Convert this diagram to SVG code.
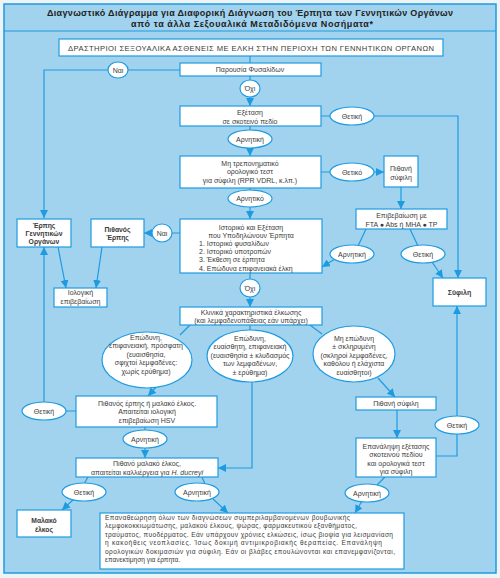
<svg xmlns="http://www.w3.org/2000/svg" width="500" height="578" viewBox="0 0 500 578">
<defs>
<style>
.bg{fill:#a1d3ef;stroke:#1e9be0;stroke-width:1.5}
.box{fill:#ffffff;stroke:#1e9be0;stroke-width:1.2}
.ell{fill:#ffffff;stroke:#1e9be0;stroke-width:1.2}
.c{stroke:#1e9be0;stroke-width:1.2;fill:none}
.t{font-family:"Liberation Sans",Arial,sans-serif;font-size:7px;fill:#3a3a3a;text-anchor:middle}
.l{text-anchor:start}
.b{font-weight:bold}
.s{font-size:6.6px}
.ttl{font-family:"Liberation Sans",Arial,sans-serif;font-size:9px;font-weight:bold;fill:#222;text-anchor:middle}
</style>
<marker id="ah" viewBox="0 0 10 10" refX="10" refY="5" markerWidth="8" markerHeight="8" markerUnits="userSpaceOnUse" orient="auto">
<path d="M0,0 L10,5 L0,10 z" fill="#1e9be0"/>
</marker>
</defs>
<rect x="0" y="0" width="500" height="578" fill="#eef3f6"/>
<rect class="bg" x="4" y="4" width="492" height="569"/>
<line x1="4" y1="31" x2="496" y2="31" stroke="#1e9be0" stroke-width="1.2"/>
<text class="ttl" x="250" y="16" textLength="406">Διαγνωστικό Διάγραμμα για Διαφορική Διάγνωση του Έρπητα των Γεννητικών Οργάνων</text>
<text class="ttl" x="252" y="27" textLength="242">από τα άλλα Σεξουαλικά Μεταδιδόμενα Νοσήματα*</text>

<g id="connectors">
<path class="c" d="M250,56 V63"/>
<path class="c" d="M180,70 H128 M108,70 H44 V218" marker-end="url(#ah)"/>
<path class="c" d="M250,76 V80 M250,97 V106" marker-end="url(#ah)"/>
<path class="c" d="M250,126 V130 M250,148 V156" marker-end="url(#ah)"/>
<path class="c" d="M321,116 H330 M374,116 H458 V278" marker-end="url(#ah)"/>
<path class="c" d="M321,172 H330 M374,172 H384" marker-end="url(#ah)"/>
<path class="c" d="M401,187 V209" marker-end="url(#ah)"/>
<path class="c" d="M250,188 V190 M250,207 V219" marker-end="url(#ah)"/>
<path class="c" d="M180,233 H172 M152,233 H144" marker-end="url(#ah)"/>
<path class="c" d="M366,229 L358,246 M335,259 L322,267" marker-end="url(#ah)"/>
<path class="c" d="M410,229 L418,246 M432,262 L443,278" marker-end="url(#ah)"/>
<path class="c" d="M58,247 L66,288" marker-end="url(#ah)"/>
<path class="c" d="M102,247 L96,288" marker-end="url(#ah)"/>
<path class="c" d="M250,273 V279 M250,297 V307" marker-end="url(#ah)"/>
<path class="c" d="M190,325 L180,335"/>
<path class="c" d="M250,325 V330"/>
<path class="c" d="M310,325 L322,334"/>
<path class="c" d="M158,385 L148,396" marker-end="url(#ah)"/>
<path class="c" d="M252,382 V468 H218" marker-end="url(#ah)"/>
<path class="c" d="M378,378 L395,397" marker-end="url(#ah)"/>
<path class="c" d="M397,410 V438" marker-end="url(#ah)"/>
<path class="c" d="M436,456 H457 V434 M457,416 V306" marker-end="url(#ah)"/>
<path class="c" d="M76,411 H66 M44,402 V247" marker-end="url(#ah)"/>
<path class="c" d="M145,427 V430 M145,448 V458" marker-end="url(#ah)"/>
<path class="c" d="M88,477 L84,484 M74,499 L62,510" marker-end="url(#ah)"/>
<path class="c" d="M202,477 L205,484 M213,499 L228,513" marker-end="url(#ah)"/>
<path class="c" d="M385,477 L377,485 M362,501 L355,513" marker-end="url(#ah)"/>
</g>

<g id="n-top"><rect class="box" x="59" y="39" width="384" height="17"/>
<text class="t" x="251" y="50.5" style="font-size:7.6px" textLength="366">ΔΡΑΣΤΗΡΙΟΙ ΣΕΞΟΥΑΛΙΚΑ ΑΣΘΕΝΕΙΣ ΜΕ ΕΛΚΗ ΣΤΗΝ ΠΕΡΙΟΧΗ ΤΩΝ ΓΕΝΝΗΤΙΚΩΝ ΟΡΓΑΝΩΝ</text></g>
<g id="n-fysalides"><rect class="box" x="180" y="63" width="141" height="13"/>
<text class="t" x="250" y="72">Παρουσία Φυσαλίδων</text></g>
<g id="n-exetasi"><rect class="box" x="180" y="106" width="141" height="20"/>
<text class="t" x="250" y="115">Εξέταση</text><text class="t" x="250" y="123.5">σε σκοτεινό πεδίο</text></g>
<g id="n-test"><rect class="box" x="180" y="156" width="141" height="32"/>
<text class="t" x="250" y="165.5">Μη τρεπονηματικό</text><text class="t" x="250" y="174">ορολογικό τεστ</text><text class="t" x="250" y="182.5">για σύφιλη (RPR VDRL, κ.λπ.)</text></g>
<g id="n-pith-syfili1"><rect class="box" x="384" y="156" width="34" height="31"/>
<text class="t" x="401" y="171">Πιθανή</text><text class="t" x="401" y="179.5">σύφιλη</text></g>
<g id="n-epivev"><rect class="box" x="356" y="209" width="91" height="20"/>
<text class="t" x="401.5" y="218">Επιβεβαίωση με</text><text class="t" x="401.5" y="226.5">FTA ● Abs ή MHA ● TP</text></g>
<g id="n-syfili"><rect class="box" x="433" y="278" width="53" height="28"/>
<text class="t b" x="459.5" y="294.5">Σύφιλη</text></g>
<g id="n-erpis"><rect class="box" x="17" y="219" width="54" height="28"/>
<text class="t b" x="44" y="227.5" style="font-size:6.8px">Έρπης</text><text class="t b" x="44" y="235.5" style="font-size:6.8px">Γεννητικών</text><text class="t b" x="44" y="244" style="font-size:6.8px">Οργάνων</text></g>
<g id="n-pith-erpis"><rect class="box" x="91" y="219" width="53" height="28"/>
<text class="t b" x="117.5" y="231.5" style="font-size:6.8px">Πιθανός</text><text class="t b" x="117.5" y="240" style="font-size:6.8px">Έρπης</text></g>
<g id="n-iologiki"><rect class="box" x="54" y="288" width="53" height="19"/>
<text class="t" x="80.5" y="295">Ιολογική</text><text class="t" x="80.5" y="303.5">επιβεβαίωση</text></g>
<g id="n-istoriko"><rect class="box" x="180" y="219" width="142" height="54"/>
<text class="t" x="251" y="229.5">Ιστορικό και Εξέταση</text>
<text class="t" x="251" y="237.5">που Υποδηλώνουν Έρπητα</text>
<text class="t l" x="199" y="245.5">1. Ιστορικό φυσαλίδων</text>
<text class="t l" x="199" y="254">2. Ιστορικό υποτροπών</text>
<text class="t l" x="199" y="262">3. Έκθεση σε έρπητα</text>
<text class="t l" x="199" y="270.5">4. Επώδυνα επιφανειακά έλκη</text></g>
<g id="n-klinika"><rect class="box" x="180" y="307" width="142" height="18"/>
<text class="t" x="251" y="314.5">Κλινικά χαρακτηριστικά έλκωσης</text><text class="t" x="251" y="322.5">(και λεμφαδενοπάθειας εάν υπάρχει)</text></g>
<g id="n-ell-left"><ellipse class="ell" cx="147" cy="360" rx="45" ry="28"/>
<text class="t" x="146" y="339.5">Επώδυνη,</text><text class="t" x="146" y="348">επιφανειακή, πρόσφατη</text><text class="t" x="146" y="356.5">(ευαισθησία,</text><text class="t" x="146" y="365">σφιχτοί λεμφαδένες:</text><text class="t" x="146" y="373.5">χωρίς ερύθημα)</text></g>
<g id="n-ell-mid"><ellipse class="ell" cx="250" cy="356" rx="43" ry="26"/>
<text class="t" x="250" y="340.5">Επώδυνη,</text><text class="t" x="250" y="349">ευαίσθητη, επιφανειακή</text><text class="t" x="250" y="357.5">(ευαισθησία ± κλυδασμός</text><text class="t" x="250" y="366">των λεμφαδένων,</text><text class="t" x="250" y="374.5">± ερύθημα)</text></g>
<g id="n-ell-right"><ellipse class="ell" cx="354" cy="354" rx="41" ry="28"/>
<text class="t" x="354" y="340.5">Μη επώδυνη</text><text class="t" x="354" y="349">± σκληρυμένη</text><text class="t" x="354" y="357.5">(σκληροί λεμφαδένες,</text><text class="t" x="354" y="366">καθόλου ή ελάχιστα</text><text class="t" x="354" y="374.5">ευαίσθητοι)</text></g>
<g id="n-pith-erpis-malako"><rect class="box" x="76" y="396" width="141" height="31"/>
<text class="t" x="147" y="405.5">Πιθανός έρπης ή μαλακό έλκος.</text><text class="t" x="147" y="414">Απαιτείται ιολογική</text><text class="t" x="147" y="422.5">επιβεβαίωση HSV</text></g>
<g id="n-pith-syfili2"><rect class="box" x="356" y="397" width="80" height="13"/>
<text class="t" x="396" y="406">Πιθανή σύφιλη</text></g>
<g id="n-epanalipsi"><rect class="box" x="356" y="438" width="80" height="39"/>
<text class="t" x="396" y="448.5">Επανάληψη εξέτασης</text><text class="t" x="396" y="457">σκοτεινού πεδίου</text><text class="t" x="396" y="465.5">και ορολογικά τεστ</text><text class="t" x="396" y="474">για σύφιλη</text></g>
<g id="n-pith-malako"><rect class="box" x="76" y="458" width="142" height="19"/>
<text class="t" x="147" y="466">Πιθανό μαλακό έλκος,</text><text class="t" x="147" y="474.5">απαιτείται καλλιέργεια για <tspan font-style="italic">H. ducreyi</tspan></text></g>
<g id="n-malako"><rect class="box" x="17" y="510" width="54" height="27"/>
<text class="t b" x="44" y="523" style="font-size:6.8px">Μαλακό</text><text class="t b" x="44" y="531.5" style="font-size:6.8px">έλκος</text></g>
<g id="n-epanatheorisi"><rect class="box" x="100" y="513" width="304" height="56"/>
<text class="t l s" x="105" y="519.5" textLength="245">Επαναθεώρηση όλων των διαγνώσεων συμπεριλαμβανομένων βουβωνικής</text>
<text class="t l s" x="105" y="528" textLength="252">λεμφοκοκκιωμάτωσης, μαλακού έλκους, ψώρας, φαρμακευτικού εξανθήματος,</text>
<text class="t l s" x="105" y="536.5" textLength="288">τραύματος, πυοδέρματος. Εάν υπάρχουν χρόνιες ελκώσεις, ίσως βιοψία για λεισμανίαση</text>
<text class="t l s" x="105" y="545" textLength="277">η κακοήθεις νεοπλασίες. Ίσως δοκιμή αντιμικροβιακής θεραπείας. Επανάληψη</text>
<text class="t l s" x="105" y="553.5" textLength="290">ορολογικών δοκιμασιών για σύφιλη. Εάν οι βλάβες επουλώνονται και επανεμφανίζονται,</text>
<text class="t l s" x="105" y="562">επανεκτίμηση για έρπητα.</text></g>

<g id="labels">
<g id="l-nai1"><ellipse class="ell" cx="118" cy="70" rx="10" ry="8"/><text class="t" x="118" y="72.5">Ναι</text></g>
<g id="l-ochi1"><ellipse class="ell" cx="250" cy="88.5" rx="10" ry="8.5"/><text class="t" x="250" y="91">Όχι</text></g>
<g id="l-thet1"><ellipse class="ell" cx="352" cy="116" rx="22" ry="9"/><text class="t" x="352" y="118.5">Θετική</text></g>
<g id="l-arn1"><ellipse class="ell" cx="250" cy="139" rx="22" ry="9"/><text class="t" x="250" y="141.5">Αρνητική</text></g>
<g id="l-thet2"><ellipse class="ell" cx="352" cy="172" rx="22" ry="9"/><text class="t" x="352" y="174.5">Θετικό</text></g>
<g id="l-arn2"><ellipse class="ell" cx="250" cy="198.5" rx="22" ry="8.5"/><text class="t" x="250" y="201">Αρνητικό</text></g>
<g id="l-nai2"><ellipse class="ell" cx="162" cy="233" rx="10" ry="9"/><text class="t" x="162" y="235.5">Ναι</text></g>
<g id="l-arn3"><ellipse class="ell" cx="352" cy="254" rx="22" ry="9"/><text class="t" x="352" y="256.5">Αρνητική</text></g>
<g id="l-thet3"><ellipse class="ell" cx="423" cy="254" rx="22" ry="9"/><text class="t" x="423" y="256.5">Θετική</text></g>
<g id="l-ochi2"><ellipse class="ell" cx="250" cy="288" rx="10" ry="9"/><text class="t" x="250" y="290.5">Όχι</text></g>
<g id="l-thet4"><ellipse class="ell" cx="44" cy="411" rx="22" ry="9"/><text class="t" x="44" y="413.5">Θετική</text></g>
<g id="l-arn4"><ellipse class="ell" cx="145" cy="439" rx="22" ry="9"/><text class="t" x="145" y="441.5">Αρνητική</text></g>
<g id="l-thet5"><ellipse class="ell" cx="457" cy="425" rx="22" ry="9"/><text class="t" x="457" y="427.5">Θετική</text></g>
<g id="l-thet6"><ellipse class="ell" cx="84" cy="492" rx="22" ry="9"/><text class="t" x="84" y="494.5">Θετική</text></g>
<g id="l-arn5"><ellipse class="ell" cx="197" cy="492" rx="22" ry="9"/><text class="t" x="197" y="494.5">Αρνητική</text></g>
<g id="l-arn6"><ellipse class="ell" cx="367" cy="493" rx="22" ry="9"/><text class="t" x="367" y="495.5">Αρνητική</text></g>
</g>
</svg>
